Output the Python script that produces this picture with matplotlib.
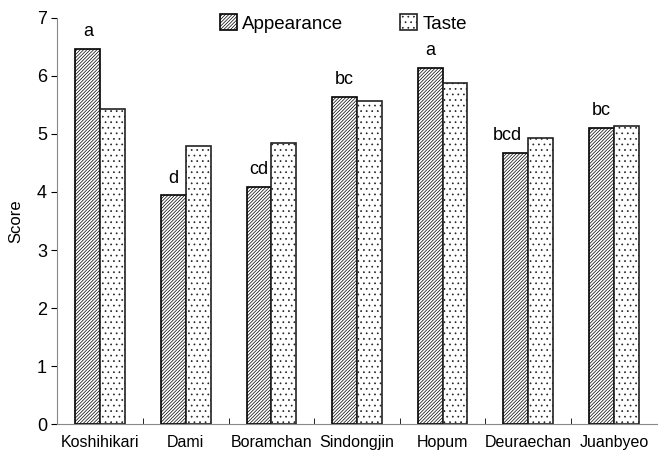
import numpy as np
import matplotlib.pyplot as plt

varieties = ['Koshihikari', 'Dami', 'Boramchan', 'Sindongjin', 'Hopum', 'Deuraechan', 'Juanbyeo']
appearance = [6.47, 3.94, 4.09, 5.64, 6.14, 4.67, 5.10]
taste = [5.43, 4.79, 4.84, 5.57, 5.88, 4.93, 5.14]
letters = ['a', 'd', 'cd', 'bc', 'a', 'bcd', 'bc']

plt.rcParams['font.family'] = ['Liberation Sans', 'DejaVu Sans']
plt.rcParams['hatch.linewidth'] = 0.5

fig = plt.figure(figsize=(6.6, 4.58), dpi=100)
ax = fig.add_axes([0.087, 0.074, 0.908, 0.887])

x = np.arange(len(varieties)) + 0.5
w = 0.29

ax.bar(x - w/2, appearance, w, facecolor='white', edgecolor='black',
       hatch='//////////', linewidth=1.2, label='Appearance')
ax.bar(x + w/2, taste, w, facecolor='white', edgecolor='#222222',
       hatch='...', linewidth=1.2, label='Taste')

# bcd sits a bit to the left in the original
shift = [0, 0, 0, 0, 0, -0.1, 0]
for xi, v, t, s in zip(x, appearance, letters, shift):
    ax.text(xi - w/2 + s, v + 0.15, t, ha='center', va='bottom', fontsize=13)

ax.set_xlim(0, len(varieties))
ax.set_ylim(0, 7)
ax.set_yticks(range(0, 8))
ax.set_xticks(x)
ax.set_xticklabels(varieties, fontsize=11.5)
ax.tick_params(axis='x', length=0, pad=8)
ax.set_xticks(np.arange(1, len(varieties)), minor=True)
ax.tick_params(axis='x', which='minor', direction='in', length=4)
ax.tick_params(axis='y', labelsize=13, length=4)
ax.set_ylabel('Score', fontsize=12, labelpad=10)

ax.spines['top'].set_visible(False)
ax.spines['right'].set_visible(False)
ax.spines['left'].set_color('#888888')
ax.spines['bottom'].set_color('#888888')

ax.legend(loc='upper left', bbox_to_anchor=(0.243, 1.05), ncol=2, frameon=False,
          fontsize=13.5, handlelength=0.9, handleheight=0.9, columnspacing=3.0,
          handletextpad=0.3)

fig.savefig('out.png', dpi=100)
